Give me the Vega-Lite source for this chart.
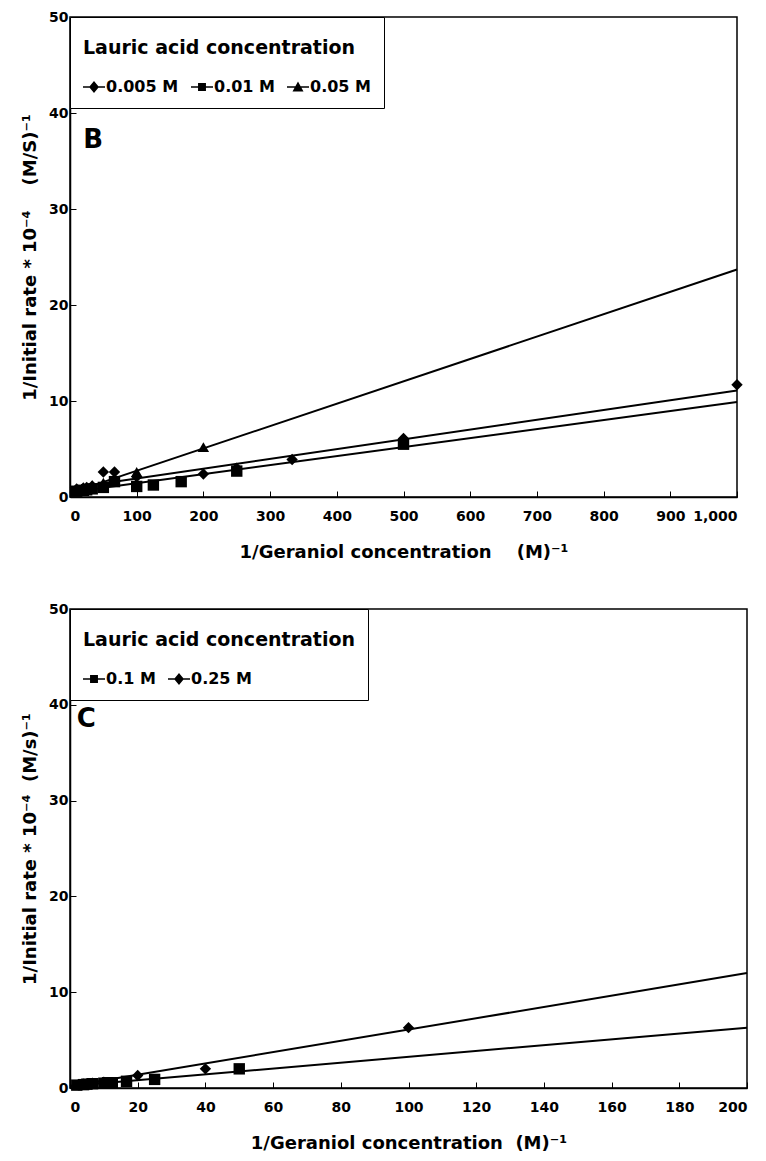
{
  "$schema": "https://vega.github.io/schema/vega-lite/v6.json",
  "background": "white",
  "padding": {"top": 9, "left": 20, "right": 10, "bottom": 5},
  "spacing": 39,
  "datasets": {
    "b_points": [
      {"conc": "0.005 M", "x": 10, "y": 0.85},
      {"conc": "0.005 M", "x": 20, "y": 0.95},
      {"conc": "0.005 M", "x": 25, "y": 1.0},
      {"conc": "0.005 M", "x": 33.3, "y": 1.15},
      {"conc": "0.005 M", "x": 50, "y": 2.6},
      {"conc": "0.005 M", "x": 66.7, "y": 2.6},
      {"conc": "0.005 M", "x": 100, "y": 2.1},
      {"conc": "0.005 M", "x": 200, "y": 2.4},
      {"conc": "0.005 M", "x": 250, "y": 3.0},
      {"conc": "0.005 M", "x": 333, "y": 3.9},
      {"conc": "0.005 M", "x": 500, "y": 6.1},
      {"conc": "0.005 M", "x": 1000, "y": 11.7},
      {"conc": "0.01 M", "x": 10, "y": 0.6},
      {"conc": "0.01 M", "x": 20, "y": 0.7},
      {"conc": "0.01 M", "x": 25, "y": 0.75},
      {"conc": "0.01 M", "x": 33.3, "y": 0.85},
      {"conc": "0.01 M", "x": 50, "y": 1.0},
      {"conc": "0.01 M", "x": 66.7, "y": 1.6},
      {"conc": "0.01 M", "x": 100, "y": 1.1},
      {"conc": "0.01 M", "x": 125, "y": 1.25},
      {"conc": "0.01 M", "x": 166.7, "y": 1.6},
      {"conc": "0.01 M", "x": 250, "y": 2.7},
      {"conc": "0.01 M", "x": 500, "y": 5.5},
      {"conc": "0.05 M", "x": 10, "y": 0.8},
      {"conc": "0.05 M", "x": 20, "y": 0.95},
      {"conc": "0.05 M", "x": 33.3, "y": 1.2},
      {"conc": "0.05 M", "x": 50, "y": 1.5},
      {"conc": "0.05 M", "x": 100, "y": 2.6},
      {"conc": "0.05 M", "x": 200, "y": 5.2}
    ],
    "b_lines": [
      {"conc": "0.005 M", "x": 0, "y": 0.9},
      {"conc": "0.005 M", "x": 1000, "y": 11.1},
      {"conc": "0.01 M", "x": 0, "y": 0.5},
      {"conc": "0.01 M", "x": 1000, "y": 9.9},
      {"conc": "0.05 M", "x": 0, "y": 0.4},
      {"conc": "0.05 M", "x": 1000, "y": 23.7}
    ],
    "c_points": [
      {"conc": "0.1 M", "x": 2, "y": 0.3},
      {"conc": "0.1 M", "x": 4, "y": 0.35},
      {"conc": "0.1 M", "x": 5, "y": 0.4},
      {"conc": "0.1 M", "x": 6.67, "y": 0.45},
      {"conc": "0.1 M", "x": 10, "y": 0.5},
      {"conc": "0.1 M", "x": 11.1, "y": 0.55},
      {"conc": "0.1 M", "x": 12.5, "y": 0.55},
      {"conc": "0.1 M", "x": 16.7, "y": 0.7},
      {"conc": "0.1 M", "x": 25, "y": 0.9},
      {"conc": "0.1 M", "x": 50, "y": 2.0},
      {"conc": "0.25 M", "x": 2.5, "y": 0.35},
      {"conc": "0.25 M", "x": 4, "y": 0.4},
      {"conc": "0.25 M", "x": 5, "y": 0.45},
      {"conc": "0.25 M", "x": 6.67, "y": 0.5},
      {"conc": "0.25 M", "x": 10, "y": 0.6},
      {"conc": "0.25 M", "x": 20, "y": 1.3},
      {"conc": "0.25 M", "x": 40, "y": 2.0},
      {"conc": "0.25 M", "x": 100, "y": 6.3}
    ],
    "c_lines": [
      {"conc": "0.1 M", "x": 0, "y": 0.2},
      {"conc": "0.1 M", "x": 200, "y": 6.3},
      {"conc": "0.25 M", "x": 0, "y": 0.2},
      {"conc": "0.25 M", "x": 200, "y": 12.0}
    ]
  },
  "config": {
    "font": "DejaVu Sans",
    "view": {"stroke": "black", "strokeWidth": 1.5},
    "axis": {
      "grid": false,
      "domainColor": "black",
      "domainWidth": 1.5,
      "tickColor": "black",
      "tickSize": -6,
      "tickWidth": 1,
      "labelFont": "DejaVu Sans",
      "labelFontSize": 14,
      "labelFontWeight": "bold",
      "labelColor": "black",
      "titleFont": "DejaVu Sans",
      "titleFontSize": 18,
      "titleFontWeight": "bold",
      "titleColor": "black"
    },
    "legend": {
      "orient": "top-left",
      "offset": 0,
      "direction": "horizontal",
      "strokeColor": "black",
      "fillColor": "white",
      "padding": 13,
      "titleFont": "DejaVu Sans",
      "titleFontSize": 19,
      "titleFontWeight": "bold",
      "titleColor": "black",
      "titleLimit": 500,
      "titleBaseline": "line-top",
      "titleLineHeight": 36,
      "titlePadding": 27,
      "labelFont": "DejaVu Sans",
      "labelFontSize": 16,
      "labelFontWeight": "bold",
      "labelColor": "black",
      "labelOffset": 1,
      "columnPadding": 12,
      "symbolSize": 484,
      "symbolStrokeWidth": 0,
      "symbolFillColor": "black",
      "symbolStrokeColor": "black"
    }
  },
  "resolve": {"scale": {"x": "independent", "y": "independent", "shape": "independent"}, "legend": {"shape": "independent"}},
  "vconcat": [
    {
      "width": 667,
      "height": 480,
      "resolve": {"scale": {"shape": "independent"}, "legend": {"shape": "independent"}},
      "layer": [
        {
          "data": {"name": "b_lines"},
          "mark": {"type": "line", "color": "black", "strokeWidth": 2},
          "encoding": {
            "x": {"field": "x", "type": "quantitative", "scale": {"domain": [0, 1000], "nice": false},
              "axis": {"values": [0, 100, 200, 300, 400, 500, 600, 700, 800, 900, 1000], "format": ",d", "labelPadding": 18, "titlePadding": 20, "title": "1/Geraniol concentration\u00a0\u00a0\u00a0\u00a0(M)⁻¹"}},
            "y": {"field": "y", "type": "quantitative", "scale": {"domain": [0, 50], "nice": false},
              "axis": {"values": [0, 10, 20, 30, 40, 50], "labelPadding": 8, "titlePadding": 9, "title": "1/Initial rate * 10⁻⁴\u00a0\u00a0\u00a0\u00a0(M/S)⁻¹"}},
            "detail": {"field": "conc"}
          }
        },
        {
          "data": {"name": "b_points"},
          "mark": {"type": "point", "filled": true, "color": "black", "opacity": 1, "size": 130},
          "encoding": {
            "x": {"field": "x", "type": "quantitative"},
            "y": {"field": "y", "type": "quantitative"},
            "shape": {
              "field": "conc", "type": "nominal",
              "scale": {"domain": ["0.005 M", "0.01 M", "0.05 M"], "range": ["diamond", "square", "triangle-up"]},
              "legend": null
            }
          }
        },
        {
          "data": {"name": "b_points"},
          "mark": {"type": "point", "filled": true, "color": "black", "opacity": 1, "size": 0},
          "encoding": {
            "x": {"field": "x", "type": "quantitative"},
            "y": {"field": "y", "type": "quantitative"},
            "shape": {
              "field": "conc", "type": "nominal",
              "scale": {"domain": ["0.005 M", "0.01 M", "0.05 M"], "range": [
                "M-1,-0.06H1V0.06H-1ZM0,-0.55L0.45,0L0,0.55L-0.45,0Z",
                "M-1,-0.06H1V0.06H-1ZM-0.36,-0.36H0.36V0.36H-0.36Z",
                "M-1,-0.06H1V0.06H-1ZM0,-0.5L0.5,0.4H-0.5Z"]},
              "legend": {
                "title": "Lauric acid concentration",
                "encode": {
                  "symbols": {"update": {
                    "size": {"value": 484},
                    "fill": {"value": "black"},
                    "opacity": {"value": 1}
                  }}
                }
              }
            }
          }
        },
        {
          "data": {"values": [{"label": "B"}]},
          "mark": {"type": "text", "font": "DejaVu Sans", "fontSize": 26, "fontWeight": "bold", "align": "left", "baseline": "middle", "color": "black"},
          "encoding": {"text": {"field": "label"}, "x": {"datum": 20}, "y": {"datum": 37.2}}
        }
      ]
    },
    {
      "width": 677,
      "height": 479,
      "resolve": {"scale": {"shape": "independent"}, "legend": {"shape": "independent"}},
      "layer": [
        {
          "data": {"name": "c_lines"},
          "mark": {"type": "line", "color": "black", "strokeWidth": 2},
          "encoding": {
            "x": {"field": "x", "type": "quantitative", "scale": {"domain": [0, 200], "nice": false},
              "axis": {"values": [0, 20, 40, 60, 80, 100, 120, 140, 160, 180, 200], "labelPadding": 18, "titlePadding": 20, "title": "1/Geraniol concentration\u00a0\u00a0(M)⁻¹"}},
            "y": {"field": "y", "type": "quantitative", "scale": {"domain": [0, 50], "nice": false},
              "axis": {"values": [0, 10, 20, 30, 40, 50], "labelPadding": 8, "titlePadding": 9, "title": "1/Initial rate * 10⁻⁴\u00a0\u00a0(M/s)⁻¹"}},
            "detail": {"field": "conc"}
          }
        },
        {
          "data": {"name": "c_points"},
          "mark": {"type": "point", "filled": true, "color": "black", "opacity": 1, "size": 130},
          "encoding": {
            "x": {"field": "x", "type": "quantitative"},
            "y": {"field": "y", "type": "quantitative"},
            "shape": {
              "field": "conc", "type": "nominal",
              "scale": {"domain": ["0.1 M", "0.25 M"], "range": ["square", "diamond"]},
              "legend": null
            }
          }
        },
        {
          "data": {"name": "c_points"},
          "mark": {"type": "point", "filled": true, "color": "black", "opacity": 1, "size": 0},
          "encoding": {
            "x": {"field": "x", "type": "quantitative"},
            "y": {"field": "y", "type": "quantitative"},
            "shape": {
              "field": "conc", "type": "nominal",
              "scale": {"domain": ["0.1 M", "0.25 M"], "range": [
                "M-1,-0.06H1V0.06H-1ZM-0.36,-0.36H0.36V0.36H-0.36Z",
                "M-1,-0.06H1V0.06H-1ZM0,-0.55L0.45,0L0,0.55L-0.45,0Z"]},
              "legend": {
                "title": "Lauric acid concentration",
                "encode": {
                  "symbols": {"update": {
                    "size": {"value": 484},
                    "fill": {"value": "black"},
                    "opacity": {"value": 1}
                  }}
                }
              }
            }
          }
        },
        {
          "data": {"values": [{"label": "C"}]},
          "mark": {"type": "text", "font": "DejaVu Sans", "fontSize": 26, "fontWeight": "bold", "align": "left", "baseline": "middle", "color": "black"},
          "encoding": {"text": {"field": "label"}, "x": {"datum": 2}, "y": {"datum": 38.5}}
        }
      ]
    }
  ]
}
